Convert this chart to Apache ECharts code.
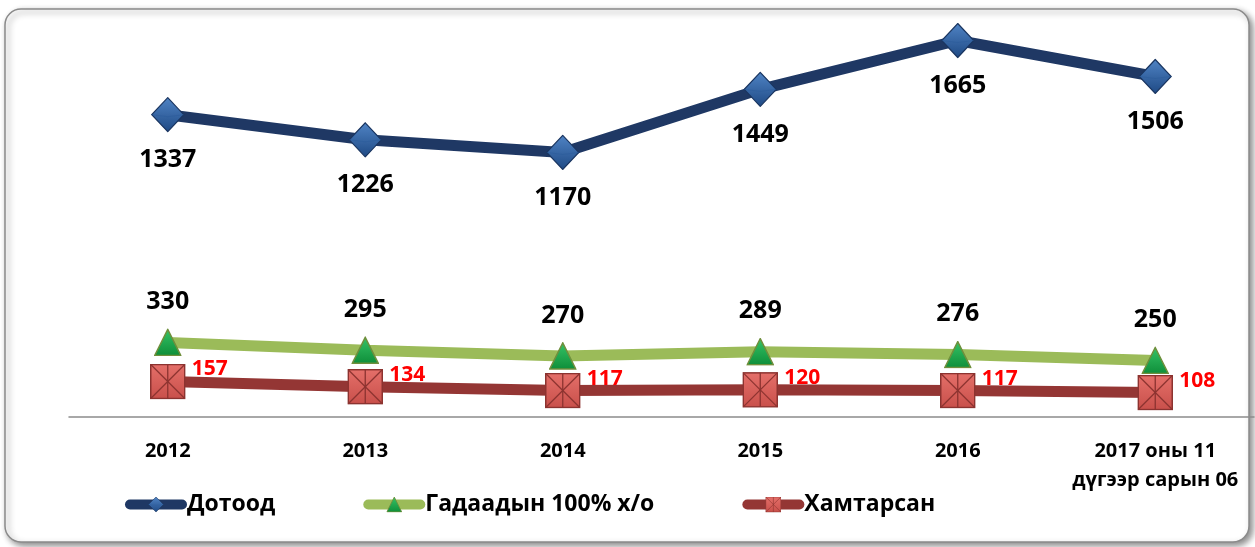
<!DOCTYPE html>
<html>
<head>
<meta charset="utf-8">
<script src="https://cdn.jsdelivr.net/npm/echarts@6/dist/echarts.min.js"></script>
<style>
  html, body { margin: 0; padding: 0; background: #fff; }
  #chart { width: 1255px; height: 547px; }
</style>
</head>
<body>
<div id="chart"></div>
<script>
var categories = ['2012', '2013', '2014', '2015', '2016', '2017 оны 11\nдүгээр сарын 06'];
var dotood = [1337, 1226, 1170, 1449, 1665, 1506];
var gadaad = [330, 295, 270, 289, 276, 250];
var hamtarsan = [157, 134, 117, 120, 117, 108];
var seriesNames = ['Дотоод', 'Гадаадын 100% х/о', 'Хамтарсан'];

var font = "'Open Sans', 'Noto Sans', sans-serif";

function svgUrl(svg) {
    return 'image://data:image/svg+xml;charset=utf-8,' + encodeURIComponent(svg);
}

var diamondSym = svgUrl(
    '<svg xmlns="http://www.w3.org/2000/svg" width="34" height="36" viewBox="0 0 34 36">' +
    '<defs><linearGradient id="g" x1="0" y1="0" x2="0" y2="1">' +
    '<stop offset="0" stop-color="#4f83c4"/><stop offset="1" stop-color="#1f4a85"/></linearGradient></defs>' +
    '<polygon points="17,1 33,18 17,35 1,18" fill="url(#g)" stroke="#1a3560" stroke-width="1.2"/>' +
    '<polyline points="1,18 17,20 33,18" fill="none" stroke="#2a5a99" stroke-width="0.8" opacity="0.6"/>' +
    '</svg>');

var triangleSym = svgUrl(
    '<svg xmlns="http://www.w3.org/2000/svg" width="28" height="28" viewBox="0 0 28 28">' +
    '<defs><linearGradient id="g" x1="0" y1="0" x2="0" y2="1">' +
    '<stop offset="0" stop-color="#35c266"/><stop offset="1" stop-color="#0f8f3a"/></linearGradient></defs>' +
    '<polygon points="14,1 27,27 1,27" fill="url(#g)" stroke="#6f8f3c" stroke-width="1.5"/>' +
    '</svg>');

var squareSym = svgUrl(
    '<svg xmlns="http://www.w3.org/2000/svg" width="36" height="36" viewBox="0 0 36 36">' +
    '<defs><linearGradient id="g" x1="0" y1="0" x2="0" y2="1">' +
    '<stop offset="0" stop-color="#e46f69"/><stop offset="1" stop-color="#c9504b"/></linearGradient></defs>' +
    '<rect x="1" y="1" width="34" height="34" fill="url(#g)" stroke="#8c3330" stroke-width="1.5"/>' +
    '<line x1="1" y1="1" x2="35" y2="35" stroke="#8c3330" stroke-width="1.3"/>' +
    '<line x1="35" y1="1" x2="1" y2="35" stroke="#8c3330" stroke-width="1.3"/>' +
    '<line x1="18" y1="1" x2="18" y2="35" stroke="#8c3330" stroke-width="1.3"/>' +
    '</svg>');

var myChart = echarts.init(document.getElementById('chart'));

var option = {
    backgroundColor: '#fff',
    animation: false,
    graphic: [{
        type: 'rect',
        z: -10,
        shape: { x: 5, y: 9, width: 1244, height: 533, r: 16 },
        style: {
            fill: '#fff',
            stroke: '#8a8a8a',
            lineWidth: 1.5,
            shadowBlur: 6,
            shadowOffsetX: 3,
            shadowOffsetY: 3,
            shadowColor: 'rgba(0,0,0,0.45)'
        }
    }],
    grid: { left: 69, right: 1, top: 10, bottom: 130 },
    legend: {
        left: 120,
        top: 488,
        itemWidth: 52,
        itemHeight: 20,
        itemGap: 88,
        lineStyle: { width: 10, cap: 'round' },
        textStyle: { fontFamily: font, fontWeight: 'bold', fontSize: 23, color: '#000' },
        data: seriesNames
    },
    xAxis: {
        type: 'category',
        data: categories,
        boundaryGap: true,
        axisLine: { lineStyle: { color: '#8c8c8c', width: 1.5 } },
        axisTick: { show: false },
        axisLabel: {
            margin: 20,
            interval: 0,
            fontFamily: font,
            fontWeight: 'bold',
            fontSize: 20,
            lineHeight: 29,
            color: '#000'
        }
    },
    yAxis: {
        type: 'value',
        min: 0,
        max: 1800,
        show: false,
        splitLine: { show: false }
    },
    series: [{
        name: seriesNames[0],
        type: 'line',
        data: dotood,
        symbol: diamondSym,
        symbolSize: [34, 36],
        z: 3,
        lineStyle: { color: '#1f3864', width: 11 },
        itemStyle: { color: '#1f3864' },
        label: {
            show: true,
            position: 'bottom',
            distance: 15,
            fontFamily: font,
            fontWeight: 'bold',
            fontSize: 25,
            color: '#000'
        }
    }, {
        name: seriesNames[1],
        type: 'line',
        data: gadaad,
        symbol: triangleSym,
        symbolSize: [28, 28],
        z: 4,
        lineStyle: { color: '#9bbb59', width: 11 },
        itemStyle: { color: '#9bbb59' },
        label: {
            show: true,
            position: 'top',
            distance: 14,
            fontFamily: font,
            fontWeight: 'bold',
            fontSize: 25,
            color: '#000'
        }
    }, {
        name: seriesNames[2],
        type: 'line',
        data: hamtarsan,
        symbol: squareSym,
        symbolSize: [36, 36],
        z: 5,
        lineStyle: { color: '#943634', width: 11 },
        itemStyle: { color: '#943634' },
        label: {
            show: true,
            position: 'right',
            distance: 6,
            offset: [0, -12],
            fontFamily: font,
            fontWeight: 'bold',
            fontSize: 21,
            color: '#ff0000'
        }
    }]
};

myChart.setOption(option);
</script>
</body>
</html>
